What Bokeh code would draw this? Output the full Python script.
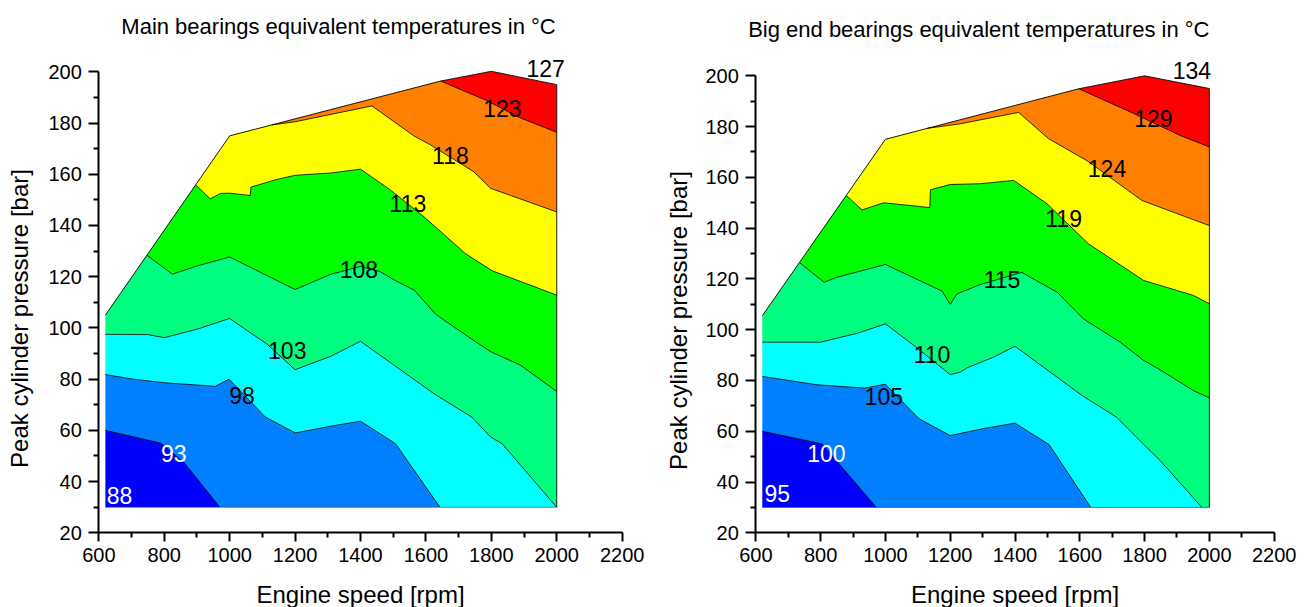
from bokeh.plotting import figure
from bokeh.layouts import row
from bokeh.models import Range1d, FixedTicker, Label
from bokeh.embed import file_html
from bokeh.resources import INLINE

FONT = "Liberation Sans"

# band colours, lowest temperature band first
BAND_COLORS = ["#0000FF", "#0080FF", "#00FFFF", "#00FF80", "#00FF00", "#FFFF00", "#FF8000", "#FF0000"]

X_TICKS = [600, 800, 1000, 1200, 1400, 1600, 1800, 2000, 2200]
X_MINOR = [700, 900, 1100, 1300, 1500, 1700, 1900, 2100]
Y_TICKS = [20, 40, 60, 80, 100, 120, 140, 160, 180, 200]
Y_MINOR = [30, 50, 70, 90, 110, 130, 150, 170, 190]
X_LIMITS = (600, 2200)
Y_LIMITS = (20, 200)

X_LABEL = "Engine speed [rpm]"
Y_LABEL = "Peak cylinder pressure [bar]"

# ---------------- Main bearings ----------------
main_title = "Main bearings equivalent temperatures in °C"
main_env_x = [620, 620, 1000, 1645, 1800, 2000, 2000]
main_env_y = [30, 105, 175, 196.4, 200.2, 195, 30]

# contour boundaries (lowest first): 88/93, 93/98, 98/103, 103/108, 108/113, 113/118, 118/123
main_lines_x = [
    [620, 790, 860, 970],
    [620, 705, 800, 956, 998, 1109, 1201, 1308, 1400, 1507, 1643],
    [620, 750, 800, 900, 1000, 1115, 1200, 1310, 1400, 1625, 1740, 1798, 1833, 2000],
    [747, 825, 900, 1000, 1200, 1310, 1400, 1460, 1505, 1565, 1630, 1745, 1800, 1890, 2000],
    [896, 941, 972, 1000, 1063, 1065, 1145, 1200, 1310, 1400, 1492, 1594, 1721, 1803, 2000],
    [1130, 1200, 1435, 1563, 1615, 1746, 1798, 2000],
    [1645, 1782, 1889, 2000],
]
main_lines_y = [
    [60, 55, 47.5, 30],
    [81.8, 80, 78.6, 77.2, 80, 65.2, 59, 61.6, 63.6, 54.8, 30],
    [97.5, 97.4, 96.2, 99.5, 103.7, 93.6, 83.7, 89, 94.8, 74.3, 65.2, 57.4, 54.8, 30],
    [128.4, 121, 124.2, 127.7, 115, 121, 124, 122, 118.6, 114.7, 105.3, 95.2, 90.6, 85.4, 75.2],
    [155.8, 150.4, 152.5, 152.6, 151.7, 155, 158, 159.6, 160.5, 162, 153.8, 143.4, 129, 122.3, 112.8],
    [179.3, 180.5, 186.7, 175, 171.4, 161, 154.5, 145.3],
    [196.4, 189, 182, 176.4],
]
main_labels = ["88", "93", "98", "103", "108", "113", "118", "123", "127"]
main_label_x = [663, 829, 1038, 1176, 1395, 1545, 1675, 1834, 1966]
main_label_y = [34.6, 51.1, 73.7, 91, 122.8, 148.4, 167.5, 185.8, 201.4]
main_label_color = ["white", "white", "black", "black", "black", "black", "black", "black", "black"]

# ---------------- Big end bearings ----------------
big_title = "Big end bearings equivalent temperatures in °C"
big_env_x = [620, 620, 1000, 1597, 1800, 2000, 2000]
big_env_y = [30, 105.5, 175, 194.9, 200, 195, 30]

# contour boundaries (lowest first): 95/100, 100/105, 105/110, 110/115, 115/119, 119/124, 124/129
big_lines_x = [
    [620, 805, 870, 972],
    [620, 790, 935, 1000, 1103, 1200, 1300, 1400, 1505, 1596, 1634],
    [620, 800, 913, 1000, 1082, 1200, 1231, 1252, 1334, 1400, 1607, 1714, 1796, 1848, 1977],
    [736, 811, 851, 1000, 1175, 1200, 1221, 1293, 1421, 1465, 1530, 1611, 1725, 1796, 1843, 1951, 2000],
    [880, 928, 995, 1137, 1139, 1200, 1293, 1396, 1499, 1627, 1797, 1951, 2000],
    [1128, 1231, 1411, 1504, 1622, 1792, 2000],
    [1597, 1766, 1910, 2000],
]
big_lines_y = [
    [60, 55, 45.2, 30],
    [81.6, 78.3, 77, 78.5, 65, 58.3, 61, 63.2, 54.8, 37.3, 30],
    [95.1, 95.1, 98.6, 102.3, 94.4, 82.3, 83.3, 85, 89.2, 93.5, 74.1, 65.5, 55, 48.5, 30],
    [126.3, 118.7, 120.7, 125.7, 115.2, 110, 114.1, 117.8, 122.6, 119.4, 114.8, 104.3, 95.1, 88, 84.6, 76, 73.2],
    [152.8, 147.2, 150, 148.1, 155.1, 157.2, 157.5, 158.8, 149.6, 133.8, 119.4, 113.5, 110.2],
    [179.3, 181.1, 185.6, 175.2, 166.6, 150.9, 141],
    [194.9, 185.2, 176.5, 172],
]
big_labels = ["95", "100", "105", "110", "115", "119", "124", "129", "134"]
big_label_x = [666, 818, 995, 1144, 1360, 1550, 1684, 1827, 1946]
big_label_y = [35.4, 51.1, 73.7, 90.2, 119.6, 143.9, 163.6, 183, 202]
big_label_color = ["white", "white", "black", "black", "black", "black", "black", "black", "black"]

# band polygons are extended just past the envelope (kept inside the canvas)
EXT_X_LO, EXT_X_HI, EXT_Y_LO, EXT_Y_HI = 560, 2060, 22, 215
FAR = 5000
CANVAS_H = 607

# canvas geometry of each panel (pixels inside its own canvas)
MAIN_GEOM = dict(W=657, px_lo=98.33, px_hi=621.67, py_hi=71.33, py_lo=532.33,
                 title_px=338.0, title_py=26.2, xlab_py=593.5, ylab_px=19.2, ylab_py=318.0)
BIG_GEOM = dict(W=650, px_lo=98.33, px_hi=616.67, py_hi=75.33, py_lo=532.33,
                title_px=321.3, title_py=29.2, xlab_py=593.5, ylab_px=20.5, ylab_py=320.0)


def below_polygon(xs, ys):
    """Region on the low-temperature side of a contour line, extended just past the envelope."""
    x0, y0, x1, y1 = xs[0], ys[0], xs[-1], ys[-1]
    if x0 > 1005:  # line starts on the top edge
        px, py = [EXT_X_LO, EXT_X_LO, x0], [EXT_Y_LO, EXT_Y_HI, EXT_Y_HI]
    else:          # starts on the left / diagonal edge
        px, py = [EXT_X_LO, EXT_X_LO], [EXT_Y_LO, y0]
    px += list(xs)
    py += list(ys)
    if x1 >= 1999:  # ends on the right edge
        px += [EXT_X_HI, EXT_X_HI]
        py += [y1, EXT_Y_LO]
    else:           # ends on the bottom edge
        px += [x1]
        py += [EXT_Y_LO]
    return px, py


def build_panel(title, env_x, env_y, lines_x, lines_y, lab_t, lab_x, lab_y, lab_c, g):
    W, H = g["W"], CANVAS_H
    sx = (g["px_hi"] - g["px_lo"]) / (X_LIMITS[1] - X_LIMITS[0])
    sy = (g["py_lo"] - g["py_hi"]) / (Y_LIMITS[1] - Y_LIMITS[0])
    x_start = X_LIMITS[0] - g["px_lo"] / sx
    x_end = X_LIMITS[0] + (W - g["px_lo"]) / sx
    y_end = Y_LIMITS[1] + g["py_hi"] / sy
    y_start = Y_LIMITS[1] - (H - g["py_hi"]) / sy

    def dx(px):
        return X_LIMITS[0] + (px - g["px_lo"]) / sx

    def dy(py):
        return Y_LIMITS[1] - (py - g["py_hi"]) / sy

    p = figure(width=W, height=H, x_range=Range1d(x_start, x_end), y_range=Range1d(y_start, y_end),
               output_backend="svg", toolbar_location=None)
    p.min_border_left = p.min_border_right = p.min_border_top = p.min_border_bottom = 0
    p.title.visible = False
    p.outline_line_color = None
    p.grid.visible = False
    p.background_fill_color = "white"
    p.border_fill_color = "white"

    # filled bands: whole envelope in the top colour, then each lower band on top
    polys_x = [list(env_x)]
    polys_y = [list(env_y)]
    for xs, ys in zip(reversed(lines_x), reversed(lines_y)):
        bx, by = below_polygon(xs, ys)
        polys_x.append(bx)
        polys_y.append(by)
    p.patches(polys_x, polys_y, fill_color=BAND_COLORS[::-1], line_color=None)

    # white mask outside the measured envelope (overlapping pieces, no seams)
    xl, xr, yb = env_x[0], env_x[-1], env_y[0]
    up_x, up_y = list(env_x[1:-1]), list(env_y[1:-1])
    mask_x = [[-FAR, xl, xl, -FAR],
              [xr, FAR, FAR, xr],
              [-FAR, FAR, FAR, -FAR],
              [-FAR] + up_x + [FAR, FAR, -FAR]]
    mask_y = [[-FAR, -FAR, FAR, FAR],
              [-FAR, -FAR, FAR, FAR],
              [-FAR, -FAR, yb, yb],
              [up_y[0]] + up_y + [up_y[-1], FAR, FAR]]
    p.patches(mask_x, mask_y, fill_color="white", line_color=None)

    # contour lines and envelope outline
    p.multi_line(lines_x, lines_y, line_color="black", line_width=0.8)
    p.line(env_x[1:], env_y[1:], line_color="black", line_width=0.9)
    p.line([env_x[-1], env_x[0]], [env_y[-1], env_y[0]], line_color="#555555", line_width=0.7)

    # axes drawn at the data limits
    p.xaxis.fixed_location = Y_LIMITS[0]
    p.xaxis.bounds = X_LIMITS
    p.yaxis.fixed_location = X_LIMITS[0]
    p.yaxis.bounds = Y_LIMITS
    p.xaxis.ticker = FixedTicker(ticks=X_TICKS, minor_ticks=X_MINOR)
    p.yaxis.ticker = FixedTicker(ticks=Y_TICKS, minor_ticks=Y_MINOR)
    for ax, tick_out, standoff in ((p.xaxis, 9, 6), (p.yaxis, 10, 7)):
        ax.axis_line_width = 2
        ax.axis_line_color = "black"
        ax.major_tick_line_width = 2
        ax.minor_tick_line_width = 2
        ax.major_tick_line_color = "black"
        ax.minor_tick_line_color = "black"
        ax.major_tick_in = 0
        ax.major_tick_out = tick_out
        ax.minor_tick_in = 0
        ax.minor_tick_out = 5
        ax.major_label_text_font = FONT
        ax.major_label_text_font_size = "20px"
        ax.major_label_text_color = "black"
        ax.major_label_standoff = standoff

    # contour value labels
    for t, x, y, c in zip(lab_t, lab_x, lab_y, lab_c):
        p.add_layout(Label(x=x, y=y, text=t, text_color=c, text_font=FONT,
                           text_font_size="23px", text_align="center", text_baseline="middle"))

    # title and axis titles
    p.add_layout(Label(x=dx(g["title_px"]), y=dy(g["title_py"]), text=title, text_font=FONT,
                       text_font_size="22px", text_align="center", text_baseline="middle",
                       text_color="black"))
    p.add_layout(Label(x=dx((g["px_lo"] + g["px_hi"]) / 2), y=dy(g["xlab_py"]), text=X_LABEL,
                       text_font=FONT, text_font_size="24px", text_align="center",
                       text_baseline="middle", text_color="black"))
    p.add_layout(Label(x=dx(g["ylab_px"]), y=dy(g["ylab_py"]), text=Y_LABEL, text_font=FONT,
                       text_font_size="24px", text_align="center", text_baseline="middle",
                       text_color="black", angle=1.5707963267948966))
    return p


p1 = build_panel(main_title, main_env_x, main_env_y, main_lines_x, main_lines_y,
                 main_labels, main_label_x, main_label_y, main_label_color, MAIN_GEOM)
p2 = build_panel(big_title, big_env_x, big_env_y, big_lines_x, big_lines_y,
                 big_labels, big_label_x, big_label_y, big_label_color, BIG_GEOM)

layout = row(p1, p2)
open("out.html", "w", encoding="utf-8").write(file_html(layout, INLINE, title="Bearing temperatures"))
